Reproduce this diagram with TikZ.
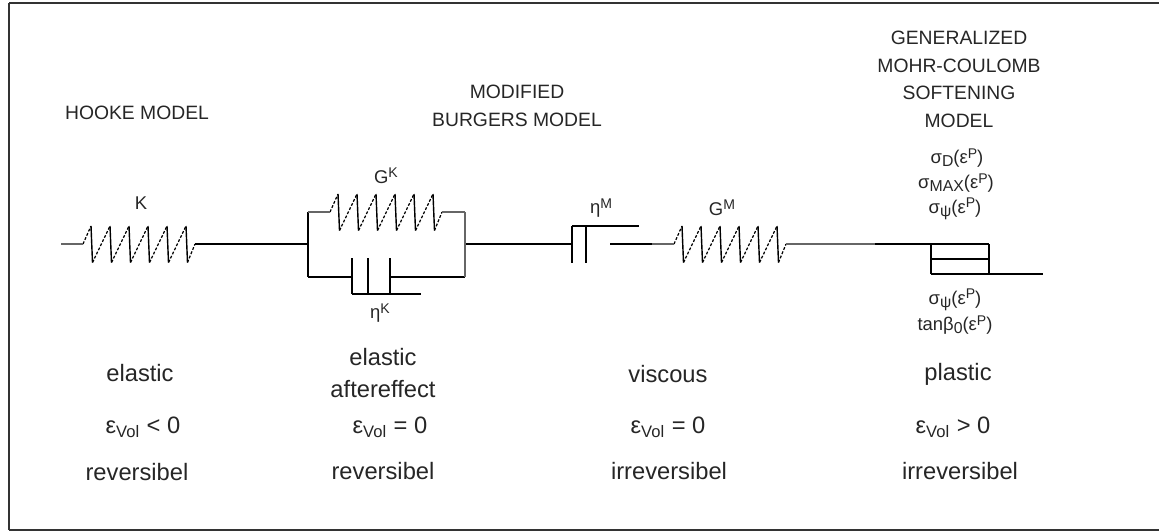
\documentclass[tikz,border=0pt]{standalone}
\usepackage{fontspec}
\usepackage{xcolor}
\usepackage{tikz}
\usetikzlibrary{positioning}
\setmainfont{Liberation Sans}
\newcommand{\lowtext}[1]{\raisebox{-0.3ex}{\fontsize{9}{9}\selectfont #1}}
\newcommand{\hightext}[1]{\raisebox{0.6ex}{\fontsize{8}{8}\selectfont #1}}
\newcommand{\springlink}[3]{
	\coordinate (#1s) at (#2,#3);
	\coordinate (#1e) at (#2+112,#3);
	\coordinate (#1t0) at (#2+8,#3-18);
	\path[tooth] (#1s) edge (#1t0);
	\foreach \i in {0,...,5}{
		\coordinate (#1t\i) at (#2+8+19*\i,#3-18);
		\coordinate (#1b\i) at (#2+9.5+19*\i,#3+18.5);
		\path[bar] (#1t\i) edge (#1b\i);
	}
	\foreach \i/\j in {0/1,1/2,2/3,3/4,4/5}{
		\path[tooth] (#1b\i) edge (#1t\j);
	}
	\path[tooth] (#1b5) edge (#1e);
}
\begin{document}
\begin{tikzpicture}[x=0.02cm,y=-0.02cm]
					\tikzstyle{bar}=[draw=black,line width=0.8pt]
					\tikzstyle{lead}=[draw=black!60,line width=0.6pt]
					\tikzstyle{tooth}=[draw=black,line width=0.7pt,dash pattern=on 1.6pt off 1pt]
					\tikzstyle{framing}=[draw=black!80,line width=0.8pt]
					\tikzstyle{head}=[font=\fontsize{11}{13}\selectfont,text=black!85,align=center,inner sep=0pt]
					\tikzstyle{symb}=[font=\fontsize{10.5}{12}\selectfont,text=black!85,inner sep=0pt]
					\tikzstyle{word}=[font=\fontsize{13.5}{15}\selectfont,text=black!85,inner sep=0pt]
					\useasboundingbox (0,0) rectangle (1159,531);
					\coordinate (ftr) at (1159,3);
					\coordinate (ftl) at (9,3);
					\coordinate (fbl) at (9,530);
					\coordinate (fbr) at (1159,530);
					\path[framing]
						(ftr) edge (ftl)
						(ftl) edge (fbl)
						(fbl) edge (fbr);
					\node[head](hooke) at (137,113){HOOKE MODEL};
					\node[head](burgers1) at (517,92){MODIFIED};
					\node[head](burgers2) at (517,120){BURGERS MODEL};
					\node[head](mohr1) at (959,38){GENERALIZED};
					\node[head](mohr2) at (959,66){MOHR-COULOMB};
					\node[head](mohr3) at (959,93){SOFTENING};
					\node[head](mohr4) at (959,121){MODEL};
					\node[symb](lk) at (141,203){K};
					\node[symb](lgk) at (386,176){G\hightext{K}};
					\node[symb](letak) at (380,313){η\hightext{K}};
					\node[symb](letam) at (601,208){η\hightext{M}};
					\node[symb](lgm) at (722,208){G\hightext{M}};
					\node[symb](sd) at (957,158){σ\lowtext{D}(ε\hightext{P})};
					\node[symb](smax) at (956,183){σ\lowtext{MAX}(ε\hightext{P})};
					\node[symb](spsi) at (955,209){σ\lowtext{ψ}(ε\hightext{P})};
					\node[symb](spsib) at (955,300){σ\lowtext{ψ}(ε\hightext{P})};
					\node[symb](tanb) at (955,325){tanβ\lowtext{0}(ε\hightext{P})};
					\node[word](w1) at (140,373){elastic};
					\node[word](w2) at (383,357){elastic};
					\node[word](w3) at (383,389){aftereffect};
					\node[word](w4) at (668,374){viscous};
					\node[word](w5) at (958,374){plastic};
					\node[word](e1) at (143,427){ε\textsubscript{Vol} < 0};
					\node[word](e2) at (390,427){ε\textsubscript{Vol} = 0};
					\node[word](e3) at (668,427){ε\textsubscript{Vol} = 0};
					\node[word](e4) at (953,427){ε\textsubscript{Vol} > 0};
					\node[word](r1) at (137,472){reversibel};
					\node[word](r2) at (383,471){reversibel};
					\node[word](r3) at (669,471){irreversibel};
					\node[word](r4) at (960,471){irreversibel};
					\springlink{sk}{83}{244}
					\springlink{sgk}{330}{212}
					\springlink{sgm}{674}{244}
					\coordinate (in) at (61,244);
					\coordinate (kl) at (308,244);
					\coordinate (kltop) at (308,212);
					\coordinate (klbot) at (308,277);
					\coordinate (kr) at (465,244);
					\coordinate (krtop) at (465,212);
					\coordinate (krbot) at (465,277);
					\coordinate (da) at (352,277);
					\coordinate (datop) at (352,258);
					\coordinate (dabot) at (352,294);
					\coordinate (dbtop) at (368,258);
					\coordinate (dbbot) at (368,294);
					\coordinate (dc) at (390,277);
					\coordinate (dctop) at (390,258);
					\coordinate (dcbot) at (390,294);
					\coordinate (dend) at (421,294);
					\coordinate (ma) at (572,244);
					\coordinate (matop) at (572,226);
					\coordinate (mabot) at (572,263);
					\coordinate (mbtop) at (586,226);
					\coordinate (mbbot) at (586,263);
					\coordinate (mend) at (639,226);
					\coordinate (mout) at (610,244);
					\coordinate (mlead) at (652,244);
					\coordinate (pin) at (875,244);
					\coordinate (bltop) at (931,244);
					\coordinate (blmid) at (931,259);
					\coordinate (blbot) at (931,274);
					\coordinate (brtop) at (989,244);
					\coordinate (brmid) at (989,259);
					\coordinate (brbot) at (989,274);
					\coordinate (out) at (1043,274);
					\path[bar]
						(ske) edge (kl)
						(kltop) edge (klbot)
						(klbot) edge (da)
						(datop) edge (dabot)
						(dbtop) edge (dbbot)
						(dctop) edge (dcbot)
						(dabot) edge (dend)
						(dc) edge (krbot)
						(kr) edge (ma)
						(matop) edge (mabot)
						(mbtop) edge (mbbot)
						(matop) edge (mend)
						(mout) edge (mlead)
						(pin) edge (brtop)
						(bltop) edge (blbot)
						(brtop) edge (brbot)
						(blmid) edge (brmid)
						(blbot) edge (out);
					\path[lead]
						(in) edge (sks)
						(kltop) edge (sgks)
						(sgke) edge (krtop)
						(krtop) edge (krbot)
						(mlead) edge (sgms)
						(sgme) edge (pin);
				\end{tikzpicture}
\end{document}
